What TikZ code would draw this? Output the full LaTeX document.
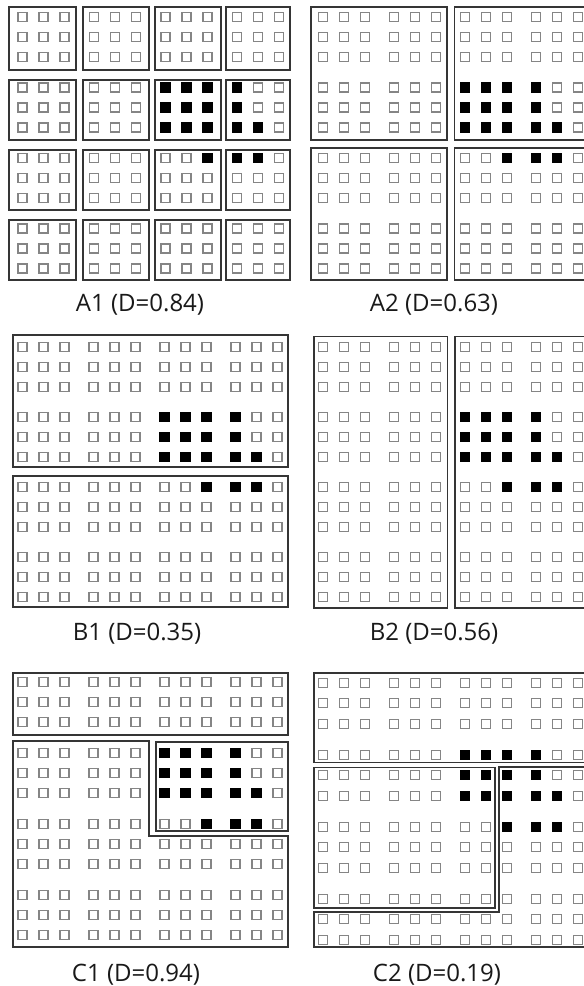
\documentclass[tikz,border=0pt]{standalone}
\usepackage{fontspec}
\setmainfont{Open Sans}
\definecolor{cellgray}{HTML}{858585}
\definecolor{boxgray}{HTML}{353535}
\tikzset{
  cellsq/.style={draw=cellgray, line width=1.35pt, fill=white},
  blacksq/.style={fill=black},
  boxline/.style={draw=boxgray, line width=1.7pt, line join=miter},
  lbl/.style={font=\fontsize{24}{28}\selectfont, text=black!90, anchor=base, inner sep=0pt}
}
% #1 xoff, #2 column block gap, #3 first row y, #4 row pitch, #5 row block gap
\newcommand\gridpanel[5]{%
  \foreach \r in {0,...,11}{%
    \foreach \c in {0,...,11}{%
      \pgfmathsetmacro\cx{#1+22.5+\c*21+floor(\c/3)*#2}%
      \pgfmathsetmacro\cy{#3+\r*#4+floor(\r/3)*#5}%
      \draw[cellsq] (\cx-4.5,\cy-4.5) rectangle (\cx+4.5,\cy+4.5);
    }%
  }%
  \foreach \r/\c in {3/6,3/7,3/8,3/9,4/6,4/7,4/8,4/9,5/6,5/7,5/8,5/9,5/10,6/8,6/9,6/10}{%
    \pgfmathsetmacro\cx{#1+22.5+\c*21+floor(\c/3)*#2}%
    \pgfmathsetmacro\cy{#3+\r*#4+floor(\r/3)*#5}%
    \fill[blacksq] (\cx-5.1,\cy-5.1) rectangle (\cx+5.1,\cy+5.1);
  }%
}
\begin{document}
\begin{tikzpicture}[x=1pt,y=-1pt]
\clip (0,0) rectangle (584,986);
\fill[white] (0,0) rectangle (584,986);

% ---------- A1 ----------
\gridpanel{0}{8.5}{17}{20}{10.5}
\foreach \xa/\xb in {9/76,83/149,155/221,226/290}{
  \foreach \ya/\yb in {7/70,80/140,150/210,220/280}{
    \draw[boxline] (\xa,\ya) rectangle (\xb,\yb);
  }
}
\node[lbl] (labA1) at (140,311.5) {A1 (D=0.84)};

% ---------- A2 ----------
\gridpanel{300.5}{8}{17}{20}{10.5}
\draw[boxline] (311,7) rectangle (447,140);
\draw[boxline] (454.5,7) rectangle (590,140);
\draw[boxline] (311,148) rectangle (447,280);
\draw[boxline] (454.5,148) rectangle (590,280);
\node[lbl] (labA2) at (434,311.5) {A2 (D=0.63)};

% ---------- B1 ----------
\gridpanel{0}{8}{346.7}{20}{10}
\draw[boxline] (13,335) rectangle (288,467);
\draw[boxline] (13,476) rectangle (288,607);
\node[lbl] (labB1) at (137,640) {B1 (D=0.35)};

% ---------- B2 ----------
\gridpanel{300.5}{8}{346.7}{20}{10}
\draw[boxline] (313.7,336.5) rectangle (447.5,608);
\draw[boxline] (455,336.5) rectangle (590,608);
\node[lbl] (labB2) at (434,640) {B2 (D=0.56)};

% ---------- C1 ----------
\gridpanel{0}{8}{681.7}{20}{11}
\draw[boxline] (13,673) rectangle (288,735);
\draw[boxline] (156,741.7) rectangle (287.7,831);
\draw[boxline] (13,740.7) -- (149,740.7) -- (149,836) -- (288.3,836)
  -- (288.3,947) -- (13,947) -- cycle;
\node[lbl] (labC1) at (136,981) {C1 (D=0.94)};

% ---------- C2 ----------
\gridpanel{300.5}{8}{682.7}{20.5}{10.5}
\draw[boxline] (313.7,673) rectangle (590,762.5);
\draw[boxline] (313.7,767.5) rectangle (495,908);
\draw[boxline] (499.3,766.7) -- (590,766.7) -- (590,947) -- (313.7,947)
  -- (313.7,912.3) -- (499.3,912.3) -- cycle;
\node[lbl] (labC2) at (437,981) {C2 (D=0.19)};
\end{tikzpicture}
\end{document}
